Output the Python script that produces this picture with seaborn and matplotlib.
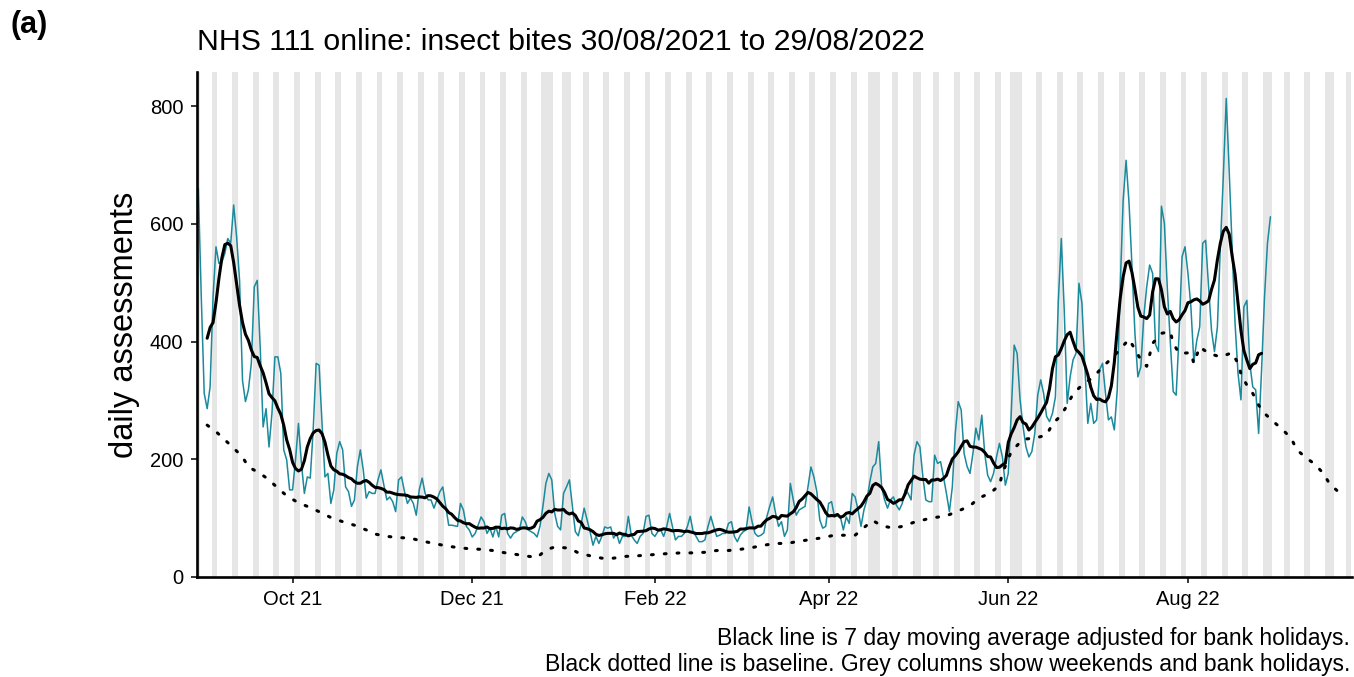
import pandas as pd
import seaborn as sns
import matplotlib
matplotlib.use("Agg")
import matplotlib.pyplot as plt
import matplotlib.dates as mdates

start = "2021-08-30"

# daily online assessments, 30/08/2021 .. 29/08/2022
daily_counts = [
    660, 476, 312, 286, 323, 476, 561, 533, 535, 550,
    575, 567, 632, 578, 504, 334, 298, 318, 363, 493,
    504, 391, 255, 286, 221, 278, 374, 374, 346, 216,
    199, 148, 148, 199, 261, 193, 142, 170, 168, 250,
    363, 360, 261, 170, 176, 125, 148, 210, 230, 216,
    153, 145, 120, 131, 187, 216, 182, 134, 145, 142,
    142, 165, 182, 156, 131, 136, 128, 111, 165, 170,
    145, 125, 134, 125, 105, 148, 168, 142, 131, 131,
    117, 131, 145, 153, 120, 88, 88, 87, 86, 125,
    114, 86, 80, 68, 74, 88, 102, 94, 74, 83,
    68, 86, 68, 105, 108, 74, 66, 74, 77, 80,
    102, 94, 80, 77, 74, 68, 86, 120, 159, 176,
    165, 108, 86, 80, 142, 153, 165, 120, 77, 70,
    91, 117, 97, 77, 54, 69, 57, 69, 85, 83,
    85, 66, 74, 57, 69, 69, 103, 71, 63, 57,
    69, 74, 103, 105, 74, 69, 77, 80, 69, 85,
    108, 85, 63, 69, 69, 74, 85, 103, 77, 69,
    60, 60, 63, 85, 103, 85, 69, 71, 74, 74,
    91, 94, 69, 60, 71, 77, 80, 119, 94, 74,
    69, 71, 75, 102, 120, 136, 108, 86, 94, 69,
    80, 159, 131, 105, 114, 117, 120, 153, 187, 170,
    145, 97, 83, 86, 125, 128, 102, 105, 102, 80,
    102, 91, 142, 136, 114, 86, 114, 131, 162, 187,
    193, 230, 153, 131, 117, 131, 136, 122, 114, 125,
    148, 142, 131, 207, 230, 221, 170, 131, 128, 128,
    207, 193, 196, 170, 142, 111, 153, 244, 298, 284,
    210, 188, 176, 210, 253, 233, 275, 210, 173, 162,
    176, 204, 227, 204, 156, 176, 278, 394, 380, 301,
    256, 221, 204, 213, 244, 309, 335, 312, 273, 264,
    278, 306, 470, 575, 453, 295, 340, 369, 380, 499,
    465, 357, 261, 295, 261, 267, 352, 363, 312, 267,
    272, 250, 318, 493, 640, 708, 635, 527, 414, 340,
    357, 442, 493, 530, 516, 395, 383, 630, 601, 490,
    400, 315, 309, 414, 544, 561, 516, 459, 366, 402,
    425, 567, 572, 493, 419, 383, 425, 560, 680, 813,
    690, 560, 430, 346, 301, 459, 470, 363, 323, 318,
    244, 352, 476, 567, 612,
]

# baseline, days after 30/08/2021 and value
baseline_day = [
    3, 6, 9, 12, 15, 17, 21, 24, 27, 30, 34, 37, 41, 45, 49, 53, 57, 60, 64, 68,
    72, 76, 80, 84, 88, 92, 96, 100, 103, 107, 111, 115, 118, 121, 126, 129, 133, 137, 141, 145,
    149, 152, 157, 160, 164, 168, 172, 176, 180, 184, 188, 192, 196, 200, 203, 207, 211, 215, 219, 223,
    226, 229, 232, 236, 239, 243, 247, 250, 254, 258, 262, 265, 269, 272, 273, 276, 280, 284, 288, 290,
    293, 295, 297, 300, 304, 307, 310, 313, 316, 318, 320, 322, 324, 327, 330, 331, 333, 337, 338, 340,
    343, 347, 351, 353, 354, 356, 358, 360, 362, 365, 368, 371, 373, 376, 379, 382, 384, 387,
]
baseline_val = [
    258, 247, 233, 219, 204, 187, 176, 165, 151, 138, 126, 120, 111, 101, 94, 88, 80, 73, 69, 67,
    66, 61, 57, 53, 50, 48, 47, 45, 42, 39, 36, 33, 46, 51, 49, 41, 36, 32, 32, 35,
    36, 37, 39, 40, 41, 41, 42, 45, 45, 47, 50, 54, 57, 57, 60, 63, 66, 70, 71, 71,
    84, 96, 87, 83, 86, 93, 98, 101, 104, 112, 121, 134, 143, 156, 176, 213, 234, 236, 241, 260,
    275, 292, 311, 326, 340, 357, 371, 387, 404, 387, 369, 358, 397, 414, 417, 397, 380, 381, 363, 391,
    380, 374, 381, 363, 345, 326, 312, 292, 278, 264, 251, 236, 216, 203, 192, 176, 159, 145,
]

bank_holidays = ["2021-08-30", "2021-12-27", "2021-12-28", "2022-01-03", "2022-04-15",
                 "2022-04-18", "2022-05-02", "2022-06-02", "2022-06-03", "2022-08-29", "2022-09-19"]
tick_dates = ["2021-10-01", "2021-12-01", "2022-02-01", "2022-04-01", "2022-06-01", "2022-08-01"]
tick_labels = ["Oct 21", "Dec 21", "Feb 22", "Apr 22", "Jun 22", "Aug 22"]
y_ticks = [0, 200, 400, 600, 800]

t0 = pd.Timestamp(start)
df = pd.DataFrame({"date": pd.date_range(start, periods=len(daily_counts), freq="D"),
                   "count": daily_counts})
# 7 day centred average, bank holidays left out of the window
is_bh = df["date"].dt.strftime("%Y-%m-%d").isin(bank_holidays)
df["ma7"] = df["count"].where(~is_bh).rolling(7, center=True, min_periods=1).mean()
df.loc[:2, "ma7"] = None
df.loc[len(df) - 3:, "ma7"] = None
base = pd.DataFrame({"date": t0 + pd.to_timedelta(baseline_day, unit="D"),
                     "baseline": baseline_val})

sns.set_theme(style="white")
plt.rcParams["font.family"] = ["Liberation Sans", "DejaVu Sans"]

fig = plt.figure(figsize=(13.54, 6.77), dpi=100)
ax = fig.add_axes([197 / 1354, 100 / 677, 1155 / 1354, 505 / 677])

# weekends and bank holidays as grey columns
x0 = mdates.date2num(t0)
for d in pd.date_range("2021-08-28", "2022-09-26", freq="D"):
    if d.weekday() >= 5 or d.strftime("%Y-%m-%d") in bank_holidays:
        xd = mdates.date2num(d)
        ax.axvspan(xd - 0.5, xd + 0.5, color="#E6E6E6", lw=0, zorder=0)

sns.lineplot(data=df, x="date", y="count", color="#1A8A9C", lw=1.1, ax=ax)
sns.lineplot(data=df, x="date", y="ma7", color="black", lw=2.2, ax=ax)
sns.lineplot(data=base, x="date", y="baseline", color="black", lw=2.2, ax=ax)
ax.lines[-1].set_linestyle((0, (0.6, 3.6)))
ax.lines[-1].set_dash_capstyle("round")

ax.set_xlim(x0 - 0.45, x0 + 391.7)
ax.set_ylim(0, 858)
ax.set_xticks([mdates.date2num(pd.Timestamp(t)) for t in tick_dates])
ax.set_xticklabels(tick_labels)
ax.set_yticks(y_ticks)
ax.tick_params(axis="both", labelsize=14.5, length=4.3, width=1.1, color="black",
               labelcolor="black", direction="out", bottom=True, left=True)
ax.tick_params(axis="y", pad=5.5)
ax.tick_params(axis="x", pad=5)
ax.set_xlabel("")
ax.set_ylabel("daily assessments", fontsize=23.5, color="black", labelpad=7)
for s in ["top", "right"]:
    ax.spines[s].set_visible(False)
for s in ["left", "bottom"]:
    ax.spines[s].set_color("black")
    ax.spines[s].set_linewidth(1.9)

fig.text(10 / 1354, 1 - 25 / 677, "(a)", fontsize=22, fontweight="bold", va="center",
         color="black")
fig.text(197 / 1354, 1 - 42 / 677, "NHS 111 online: insect bites 30/08/2021 to 29/08/2022",
         fontsize=21.8, va="center", color="black")
fig.text(1350 / 1354, 1 - 638 / 677,
         "Black line is 7 day moving average adjusted for bank holidays.",
         fontsize=16.6, ha="right", va="center", color="black")
fig.text(1350 / 1354, 1 - 665 / 677,
         "Black dotted line is baseline. Grey columns show weekends and bank holidays.",
         fontsize=16.6, ha="right", va="center", color="black")

fig.savefig("out.png", dpi=100)
